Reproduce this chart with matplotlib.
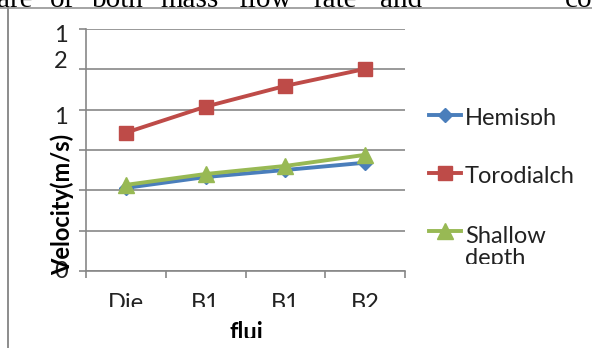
import matplotlib
matplotlib.use("Agg")
import matplotlib.pyplot as plt
from matplotlib.lines import Line2D
from matplotlib.transforms import Bbox

W, H = 592, 356

categories = ["Die", "B1", "B1", "B2"]
hemisph = [4.12, 4.66, 5.01, 5.37]
torodial = [6.86, 8.15, 9.18, 10.02]
shallow = [4.27, 4.81, 5.21, 5.76]
series_names = ["Hemisph", "Torodialch", "Shallow\ndepth"]

BLUE = "#4A7EBB"
RED = "#BE4B48"
GREEN = "#98B954"
GRID = "#878787"
SANS = ["Lato", "DejaVu Sans"]
SERIF = ["Liberation Serif", "DejaVu Serif"]


def fx(x):
    return x / W


def fy(y):
    return 1 - y / H


def clip(x0, y0, x1, y1):
    # pixel box (top-left origin) -> display bbox
    return Bbox([[x0, H - y1], [x1, H - y0]])


fig = plt.figure(figsize=(W / 100, H / 100), dpi=100)
fig.patch.set_facecolor("white")

# page text above the chart, mostly cut off
words = [("are", -3), ("of", 50), ("both", 92), ("mass", 160), ("flow", 238),
         ("rate", 313), ("and", 380), ("co", 565)]
for w, x in words:
    fig.text(fx(x), fy(7), w, fontsize=21, family=SERIF, color="black",
             va="baseline", ha="left")

# frame of the embedded chart
fig.add_artist(Line2D([0, 1], [fy(7.5), fy(7.5)], transform=fig.transFigure,
                      color="#8c8c8c", lw=1.1))
fig.add_artist(Line2D([fx(8), fx(8)], [fy(7.5), fy(347)], transform=fig.transFigure,
                      color="#8c8c8c", lw=1.4))

ax = fig.add_axes([fx(86), fy(271), fx(405) - fx(86), fy(29) - fy(271)])
x = list(range(len(categories)))
ax.plot(x, hemisph, color=BLUE, lw=2.8, marker="D", ms=7, mec=BLUE, mfc=BLUE, zorder=3)
ax.plot(x, torodial, color=RED, lw=2.8, marker="s", ms=10, mec=RED, mfc=RED, zorder=3)
ax.plot(x, shallow, color=GREEN, lw=2.8, marker="^", ms=11, mec=GREEN, mfc=GREEN, zorder=4)

ax.set_xlim(-0.5, 3.5)
ax.set_ylim(0, 12)
ax.set_yticks(range(0, 13, 2))
ax.set_yticklabels([])
ax.grid(axis="y", color=GRID, lw=1.2)
ax.set_axisbelow(True)
for s in ["top", "right"]:
    ax.spines[s].set_visible(False)
for s in ["left", "bottom"]:
    ax.spines[s].set_color(GRID)
    ax.spines[s].set_linewidth(1.2)
ax.tick_params(axis="y", length=5, width=1.2, color=GRID, direction="out")
ax.set_xticks(x)
ax.set_xticks([i - 0.5 for i in range(len(categories) + 1)], minor=True)
ax.tick_params(axis="x", which="minor", length=5, width=1.2, color=GRID, direction="out")
ax.tick_params(axis="x", which="major", length=0, pad=16)
ax.set_xticklabels(categories, fontsize=17, family=SANS, color="#222222")
for lab in ax.get_xticklabels():
    lab.set_clip_on(True)
    lab.set_clip_box(clip(0, 0, W, 307))

# squeezed y tick labels as they appear
for txt, yy in [("1", 35), ("2", 62), ("1", 117), ("0", 272)]:
    fig.text(fx(61), fy(yy), txt, fontsize=17, family=SANS, color="#222222",
             ha="center", va="center")

fig.text(fx(62), fy(204), "Velocity(m/s)", rotation=90, fontsize=17,
         fontweight="bold", family=SANS, ha="center", va="center")
t = fig.text(fx(246), fy(340), "flui", fontsize=17, fontweight="bold", family=SANS,
             ha="center", va="baseline")
t.set_clip_box(clip(0, 0, W, 338))

# legend
leg = [(BLUE, "D", 7, 115, 0, 125, (0, 100, W, 125)),
       (RED, "s", 10, 173, 1, 183, (0, 100, W, 400)),
       (GREEN, "^", 11, 231, 2, 243, (0, 100, W, 264))]
for col, mk, ms, ly, idx, base, cb in leg:
    fig.add_artist(Line2D([fx(429), fx(461)], [fy(ly), fy(ly)], transform=fig.transFigure,
                          color=col, lw=2.8))
    fig.add_artist(Line2D([fx(445)], [fy(ly)], transform=fig.transFigure,
                          color=col, marker=mk, ms=ms, mec=col, mfc=col))
    name = series_names[idx]
    if "\n" in name:
        tt = fig.text(fx(465), fy(base - 17), name, fontsize=17, family=SANS,
                      color="#222222", ha="left", va="top", linespacing=1.05)
    else:
        tt = fig.text(fx(465), fy(base), name, fontsize=17, family=SANS,
                      color="#222222", ha="left", va="baseline")
    tt.set_clip_box(clip(*cb))

fig.savefig("out.png", dpi=100, facecolor="white")
